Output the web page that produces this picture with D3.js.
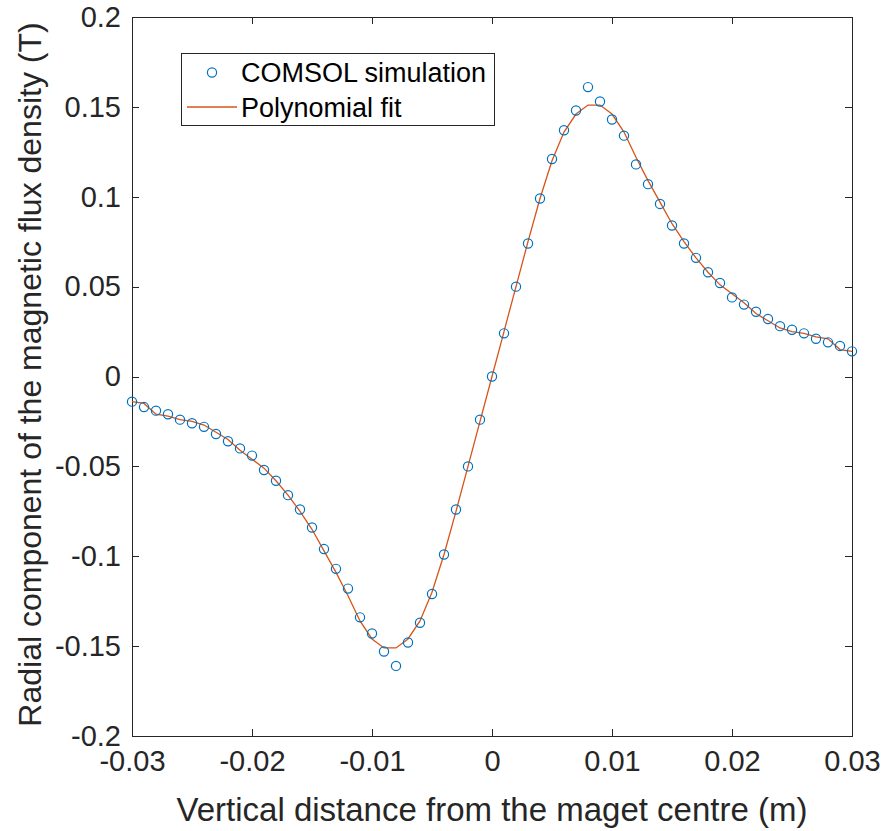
<!DOCTYPE html>
<meta charset="utf-8">
<title>Radial flux density</title>
<style>
body { margin: 0; background: #fff; font-family: "Liberation Sans", Arial, sans-serif; }
.tick text { fill: #262626; font-size: 29px; }
.axis path, .axis line { stroke: #262626; stroke-width: 1; shape-rendering: crispEdges; }
</style>
<body>
<script src="https://d3js.org/d3.v7.min.js"></script>
<script>
// x positions (m), one sample every mm
var xs = d3.range(-30, 31).map(function(i) { return i / 1000; });

// COMSOL simulated radial flux density (T)
var simulation = [
  -0.014, -0.017, -0.019, -0.021, -0.024, -0.026, -0.028, -0.032, -0.036, -0.040,
  -0.044, -0.052, -0.058, -0.066, -0.074, -0.084, -0.096, -0.107, -0.118, -0.134,
  -0.143, -0.153, -0.161, -0.148, -0.137, -0.121, -0.099, -0.074, -0.050, -0.024,
   0.000,
   0.024,  0.050,  0.074,  0.099,  0.121,  0.137,  0.148,  0.161,  0.153,  0.143,
   0.134,  0.118,  0.107,  0.096,  0.084,  0.074,  0.066,  0.058,  0.052,  0.044,
   0.040,  0.036,  0.032,  0.028,  0.026,  0.024,  0.021,  0.019,  0.017,  0.014
];

// polynomial fit evaluated at the same x positions (T)
var fit = [
  -0.014, -0.015, -0.021, -0.022, -0.024, -0.025, -0.027, -0.031, -0.035, -0.041,
  -0.046, -0.051, -0.058, -0.066, -0.075, -0.085, -0.097, -0.109, -0.122, -0.136,
  -0.146, -0.151, -0.151, -0.146, -0.136, -0.120, -0.099, -0.075, -0.050, -0.025,
   0.000,
   0.025,  0.050,  0.075,  0.099,  0.120,  0.136,  0.146,  0.151,  0.151,  0.146,
   0.136,  0.122,  0.109,  0.097,  0.085,  0.075,  0.066,  0.058,  0.051,  0.046,
   0.041,  0.035,  0.031,  0.027,  0.025,  0.024,  0.022,  0.021,  0.015,  0.014
];

var xTicks = [-0.03, -0.02, -0.01, 0, 0.01, 0.02, 0.03];
var yTicks = [-0.2, -0.15, -0.1, -0.05, 0, 0.05, 0.1, 0.15, 0.2];

var margin = {top: 17, right: 32, bottom: 95, left: 132},
    width = 884 - margin.left - margin.right,
    height = 831 - margin.top - margin.bottom;

var svg = d3.select("body").append("svg")
    .attr("width", 884)
    .attr("height", 831)
  .append("g")
    .attr("transform", "translate(" + margin.left + "," + margin.top + ")");

var x = d3.scaleLinear().domain([-0.03, 0.03]).range([0, width]);
var y = d3.scaleLinear().domain([-0.2, 0.2]).range([height, 0]);

var fmt = function(d) { return String(+d.toFixed(3)); };

// axes, ticks pointing inward on all four sides
svg.append("g").attr("class", "axis")
    .attr("transform", "translate(0," + height + ")")
    .call(d3.axisBottom(x).tickValues(xTicks).tickFormat(fmt).tickSizeInner(-7).tickSizeOuter(0).tickPadding(14));
svg.append("g").attr("class", "axis")
    .call(d3.axisTop(x).tickValues(xTicks).tickFormat("").tickSizeInner(-7).tickSizeOuter(0));
svg.append("g").attr("class", "axis")
    .call(d3.axisLeft(y).tickValues(yTicks).tickFormat(fmt).tickSizeInner(-7).tickSizeOuter(0).tickPadding(11));
svg.append("g").attr("class", "axis")
    .attr("transform", "translate(" + width + ",0)")
    .call(d3.axisRight(y).tickValues(yTicks).tickFormat("").tickSizeInner(-7).tickSizeOuter(0));

// fit line
var line = d3.line()
    .x(function(d, i) { return x(xs[i]); })
    .y(function(d) { return y(d); });

svg.append("path")
    .datum(fit)
    .attr("d", line)
    .attr("fill", "none")
    .attr("stroke", "#D95319")
    .attr("stroke-width", 1.3);

// simulation markers
svg.selectAll(".pt")
    .data(simulation)
  .enter().append("circle")
    .attr("class", "pt")
    .attr("cx", function(d, i) { return x(xs[i]); })
    .attr("cy", function(d) { return y(d); })
    .attr("r", 4.6)
    .attr("fill", "none")
    .attr("stroke", "#0072BD")
    .attr("stroke-width", 1.2);

// legend
var lg = svg.append("g").attr("transform", "translate(" + (181 - margin.left) + "," + (53 - margin.top) + ")");
lg.append("rect")
    .attr("width", 313).attr("height", 72)
    .attr("fill", "#fff").attr("stroke", "#262626").attr("stroke-width", 1)
    .attr("shape-rendering", "crispEdges");
lg.append("circle")
    .attr("cx", 31).attr("cy", 19.5).attr("r", 4.6)
    .attr("fill", "none").attr("stroke", "#0072BD").attr("stroke-width", 1.2);
lg.append("line")
    .attr("x1", 6).attr("x2", 56).attr("y1", 54).attr("y2", 54)
    .attr("stroke", "#D95319").attr("stroke-width", 1.3);
lg.append("text").attr("x", 60).attr("y", 29)
    .attr("font-size", 27).attr("fill", "#000").text("COMSOL simulation");
lg.append("text").attr("x", 60).attr("y", 64)
    .attr("font-size", 27).attr("fill", "#000").text("Polynomial fit");

// axis titles
svg.append("text")
    .attr("x", width / 2)
    .attr("y", 821 - margin.top)
    .attr("text-anchor", "middle")
    .attr("font-size", 33)
    .attr("fill", "#262626")
    .text("Vertical distance from the maget centre (m)");

svg.append("text")
    .attr("transform", "rotate(-90)")
    .attr("x", -height / 2 + 2)
    .attr("y", 41 - margin.left)
    .attr("text-anchor", "middle")
    .attr("font-size", 32)
    .attr("fill", "#262626")
    .text("Radial component of the magnetic flux density (T)");
</script>
</body>
